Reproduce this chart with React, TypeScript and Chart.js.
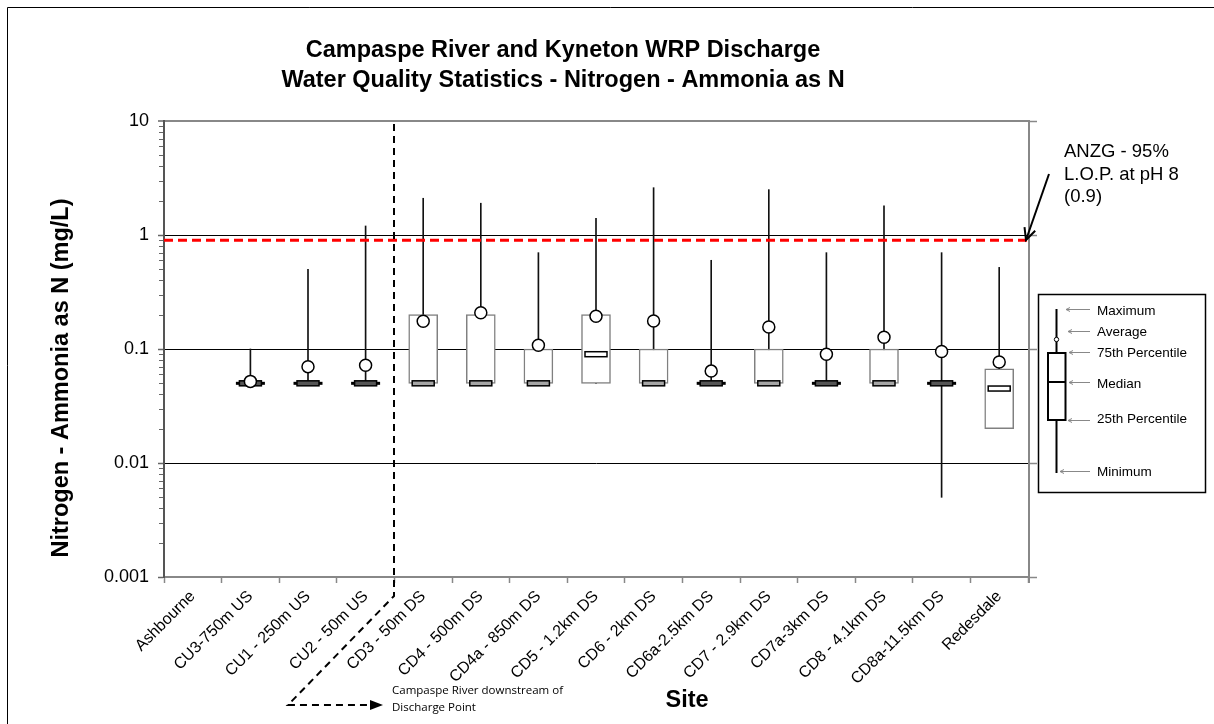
import React, { useEffect, useRef } from 'react';
import { Chart, registerables } from 'chart.js';

Chart.register(...registerables);

const sites = [
  'Ashbourne', 'CU3-750m US', 'CU1 - 250m US', 'CU2 - 50m US', 'CD3 - 50m DS',
  'CD4 - 500m DS', 'CD4a - 850m DS', 'CD5 - 1.2km DS', 'CD6 - 2km DS', 'CD6a-2.5km DS',
  'CD7 - 2.9km DS', 'CD7a-3km DS', 'CD8 - 4.1km DS', 'CD8a-11.5km DS', 'Redesdale',
];
const minValues = [null, 0.05, 0.05, 0.05, 0.05, 0.05, 0.05, 0.05, 0.05, 0.05, 0.05, 0.05, 0.05, 0.005, 0.02];
const q1Values = [null, 0.05, 0.05, 0.05, 0.05, 0.05, 0.05, 0.05, 0.05, 0.05, 0.05, 0.05, 0.05, 0.05, 0.02];
const medianValues = [null, 0.05, 0.05, 0.05, 0.05, 0.05, 0.05, 0.09, 0.05, 0.05, 0.05, 0.05, 0.05, 0.05, 0.045];
const q3Values = [null, 0.05, 0.05, 0.05, 0.2, 0.2, 0.1, 0.2, 0.1, 0.05, 0.1, 0.05, 0.1, 0.05, 0.067];
const maxValues = [null, 0.1, 0.5, 1.2, 2.1, 1.9, 0.7, 1.4, 2.6, 0.6, 2.5, 0.7, 1.8, 0.7, 0.52];
const meanValues = [null, 0.052, 0.07, 0.072, 0.175, 0.208, 0.108, 0.194, 0.176, 0.064, 0.156, 0.09, 0.127, 0.095, 0.077];

const yTickValues = [0.001, 0.01, 0.1, 1, 10];
const yTickLabels = ['0.001', '0.01', '0.1', '1', '10'];
const minorSteps = [2, 3, 4, 5, 6, 7, 8, 9];
const guidelineValue = 0.9;
const dischargeAfterIndex = 3;

const titleLines = ['Campaspe River and Kyneton WRP Discharge', 'Water Quality Statistics - Nitrogen - Ammonia as N'];
const yTitle = 'Nitrogen - Ammonia as N (mg/L)';
const xTitle = 'Site';
const guidelineText = ['ANZG - 95%', 'L.O.P. at pH 8', '(0.9)'];
const legendLabels = ['Maximum', 'Average', '75th Percentile', 'Median', '25th Percentile', 'Minimum'];
const noteLines = ['Campaspe River downstream of', 'Discharge Point'];

const FONT = '"Liberation Sans", Arial, Helvetica, sans-serif';
const NOTE_FONT = '"Open Sans", "Noto Sans", sans-serif';

function arrowHead(ctx: CanvasRenderingContext2D, tx: number, ty: number, fx: number, fy: number, len: number, spread: number) {
  const ang = Math.atan2(ty - fy, tx - fx);
  ctx.beginPath();
  ctx.moveTo(tx - len * Math.cos(ang - spread), ty - len * Math.sin(ang - spread));
  ctx.lineTo(tx, ty);
  ctx.lineTo(tx - len * Math.cos(ang + spread), ty - len * Math.sin(ang + spread));
  ctx.stroke();
}

const decorPlugin = {
  id: 'decor',
  beforeDraw(chart: any) {
    const { ctx, width, height } = chart;
    ctx.save();
    ctx.fillStyle = '#fff';
    ctx.fillRect(0, 0, width, height);
    ctx.strokeStyle = '#000';
    ctx.lineWidth = 1;
    ctx.beginPath();
    ctx.moveTo(7.5, height);
    ctx.lineTo(7.5, 7.5);
    ctx.lineTo(width, 7.5);
    ctx.stroke();
    ctx.restore();
  },
  afterDatasetDraw(chart: any, args: any) {
    if (args.index !== 1) return;
    const { ctx } = chart;
    const x = chart.scales.x;
    const y = chart.scales.y;
    ctx.save();
    sites.forEach((_, i) => {
      const med = medianValues[i];
      if (med == null) return;
      const cx = x.getPixelForValue(i);
      const q1 = q1Values[i] as number;
      const q3 = q3Values[i] as number;
      const degenerate = q1 === q3;
      if (degenerate) {
        const py = y.getPixelForValue(q1);
        ctx.fillStyle = '#000';
        ctx.fillRect(cx - 14.5, py - 1.5, 29, 3);
      }
      const my = y.getPixelForValue(med);
      ctx.fillStyle = degenerate ? '#555' : med === q1 ? '#a6a6a6' : '#fff';
      ctx.fillRect(cx - 11, my - 2.5, 22, 5);
      ctx.strokeStyle = '#000';
      ctx.lineWidth = 1.5;
      ctx.strokeRect(cx - 11, my - 2.5, 22, 5);
    });
    ctx.restore();
  },
  afterDatasetsDraw(chart: any) {
    const { ctx, chartArea: a } = chart;
    const x = chart.scales.x;
    const y = chart.scales.y;
    ctx.save();
    // guideline
    const gy = y.getPixelForValue(guidelineValue);
    ctx.strokeStyle = '#ff0000';
    ctx.lineWidth = 3;
    ctx.setLineDash([9, 5]);
    ctx.beginPath();
    ctx.moveTo(a.left, gy);
    ctx.lineTo(a.right, gy);
    ctx.stroke();
    ctx.setLineDash([]);

    // right axis
    ctx.strokeStyle = '#888';
    ctx.lineWidth = 2;
    ctx.beginPath();
    ctx.moveTo(a.right + 1, a.top - 1);
    ctx.lineTo(a.right + 1, a.bottom + 6);
    ctx.stroke();
    ctx.lineWidth = 1.5;
    yTickValues.forEach((v) => {
      const py = Math.round(y.getPixelForValue(v)) + 0.5;
      ctx.beginPath();
      ctx.moveTo(a.right, py);
      ctx.lineTo(a.right + 9, py);
      ctx.stroke();
    });

    // minor ticks on left axis
    ctx.strokeStyle = '#666';
    ctx.lineWidth = 1;
    yTickValues.slice(0, -1).forEach((d) => {
      minorSteps.forEach((k) => {
        const py = Math.round(y.getPixelForValue(d * k)) + 0.5;
        ctx.beginPath();
        ctx.moveTo(a.left - 5, py);
        ctx.lineTo(a.left - 1, py);
        ctx.stroke();
      });
    });

    // discharge separator + note arrow
    const bx = Math.round((x.getPixelForValue(dischargeAfterIndex) + x.getPixelForValue(dischargeAfterIndex + 1)) / 2);
    ctx.strokeStyle = '#000';
    ctx.lineWidth = 2;
    ctx.setLineDash([7, 5]);
    ctx.beginPath();
    ctx.moveTo(bx, a.top + 3);
    ctx.lineTo(bx, a.bottom + 19);
    ctx.lineTo(288, 705);
    ctx.lineTo(370, 705);
    ctx.stroke();
    ctx.setLineDash([]);
    ctx.fillStyle = '#000';
    ctx.beginPath();
    ctx.moveTo(383, 705);
    ctx.lineTo(370, 700);
    ctx.lineTo(370, 710);
    ctx.closePath();
    ctx.fill();
    ctx.restore();
  },
  afterDraw(chart: any) {
    const { ctx } = chart;
    ctx.save();
    ctx.fillStyle = '#000';
    // title
    ctx.font = `bold 23.5px ${FONT}`;
    ctx.textAlign = 'center';
    ctx.textBaseline = 'alphabetic';
    ctx.fillText(titleLines[0], 563, 57);
    ctx.fillText(titleLines[1], 563, 87);
    // axis titles
    ctx.font = `bold 23.5px ${FONT}`;
    ctx.fillText(xTitle, 687, 707);
    ctx.save();
    ctx.translate(68, 378);
    ctx.rotate(-Math.PI / 2);
    ctx.fillText(yTitle, 0, 0);
    ctx.restore();

    // guideline annotation
    ctx.textAlign = 'left';
    ctx.font = `18.5px ${FONT}`;
    ctx.fillText(guidelineText[0], 1064, 157);
    ctx.fillText(guidelineText[1], 1064, 179.5);
    ctx.fillText(guidelineText[2], 1064, 202);
    ctx.strokeStyle = '#000';
    ctx.lineWidth = 2;
    ctx.beginPath();
    ctx.moveTo(1049, 174);
    ctx.lineTo(1026, 240);
    ctx.stroke();
    arrowHead(ctx, 1026, 240, 1049, 174, 13, 0.45);

    // note text
    ctx.font = `11.5px ${NOTE_FONT}`;
    ctx.fillText(noteLines[0], 392, 694);
    ctx.fillText(noteLines[1], 392, 711);

    // legend
    ctx.strokeStyle = '#000';
    ctx.lineWidth = 1.5;
    ctx.strokeRect(1038.5, 294.5, 167, 198);
    const lx = 1056.5;
    ctx.lineWidth = 2;
    ctx.beginPath();
    ctx.moveTo(lx, 309);
    ctx.lineTo(lx, 473);
    ctx.stroke();
    ctx.fillStyle = '#fff';
    ctx.fillRect(1048, 353, 17.5, 67);
    ctx.strokeRect(1048, 353, 17.5, 67);
    ctx.beginPath();
    ctx.moveTo(1048, 382);
    ctx.lineTo(1065.5, 382);
    ctx.stroke();
    ctx.lineWidth = 1;
    ctx.beginPath();
    ctx.arc(lx, 339.5, 2.2, 0, Math.PI * 2);
    ctx.fill();
    ctx.stroke();

    const labelY = [311, 332, 353, 384, 419, 472];
    const arrowY = [309.5, 331.5, 352.5, 382.5, 420.5, 471.5];
    const tipX = [1066, 1068, 1069, 1069, 1068, 1060];
    ctx.fillStyle = '#000';
    ctx.font = `13.5px ${FONT}`;
    ctx.textBaseline = 'middle';
    legendLabels.forEach((lab, i) => {
      ctx.fillText(lab, 1097, labelY[i]);
      ctx.strokeStyle = '#888';
      ctx.lineWidth = 1;
      ctx.beginPath();
      ctx.moveTo(1090, arrowY[i]);
      ctx.lineTo(tipX[i], arrowY[i]);
      ctx.stroke();
      ctx.beginPath();
      ctx.moveTo(tipX[i] + 4, arrowY[i] - 2);
      ctx.lineTo(tipX[i], arrowY[i]);
      ctx.lineTo(tipX[i] + 4, arrowY[i] + 2);
      ctx.stroke();
    });
    ctx.restore();
  },
};

export default function App() {
  const canvasRef = useRef<HTMLCanvasElement | null>(null);

  useEffect(() => {
    const canvas = canvasRef.current;
    if (!canvas) return;
    const chart = new Chart(canvas, {
      type: 'bar',
      data: {
        labels: sites,
        datasets: [
          {
            type: 'line',
            label: 'Average',
            data: meanValues as any,
            showLine: false,
            pointRadius: 6,
            pointHoverRadius: 6,
            pointBackgroundColor: '#fff',
            pointBorderColor: '#000',
            pointBorderWidth: 1.5,
          } as any,
          {
            type: 'bar',
            label: 'Box',
            data: sites.map((_, i) => (q1Values[i] == null ? null : [q1Values[i], q3Values[i]])) as any,
            backgroundColor: '#fff',
            borderColor: '#808080',
            borderWidth: 1.5,
            borderSkipped: false,
            barThickness: 29,
            grouped: false,
          } as any,
          {
            type: 'bar',
            label: 'Range',
            data: sites.map((_, i) => (minValues[i] == null ? null : [minValues[i], maxValues[i]])) as any,
            backgroundColor: '#111',
            borderWidth: 0,
            barThickness: 1,
            grouped: false,
          } as any,
        ],
      },
      options: {
        responsive: false,
        animation: false,
        events: [],
        layout: { padding: { top: 121, right: 186, bottom: 0, left: 0 } },
        plugins: {
          legend: { display: false },
          tooltip: { enabled: false },
          title: { display: false },
        },
        scales: {
          x: {
            type: 'category',
            offset: true,
            afterFit: (s: any) => {
              s.height = 147;
            },
            grid: {
              offset: true,
              drawOnChartArea: false,
              drawTicks: true,
              tickLength: 6,
              tickColor: '#888',
              tickWidth: 1.5,
            },
            border: { color: '#888', width: 2 },
            ticks: {
              autoSkip: false,
              maxRotation: 45,
              minRotation: 45,
              padding: 4,
              color: '#000',
              font: { family: FONT, size: 16 },
            },
          },
          y: {
            type: 'logarithmic',
            min: 0.001,
            max: 10,
            afterFit: (s: any) => {
              s.width = 164;
            },
            afterBuildTicks: (s: any) => {
              s.ticks = yTickValues.map((v) => ({ value: v }));
            },
            grid: {
              color: (c: any) =>
                c.tick && c.tick.value === 10 ? '#888' : c.tick && c.tick.value === 0.001 ? 'rgba(0,0,0,0)' : '#000',
              lineWidth: (c: any) => (c.tick && c.tick.value === 10 ? 2 : 1),
              drawTicks: true,
              tickLength: 6,
              tickColor: '#666',
              tickWidth: 1.5,
            },
            border: { color: '#555', width: 2 },
            ticks: {
              autoSkip: false,
              padding: 9,
              color: '#000',
              font: { family: FONT, size: 18 },
              callback: (_v: any, idx: number) => yTickLabels[idx],
            },
          },
        },
      },
      plugins: [decorPlugin],
    });
    return () => chart.destroy();
  }, []);

  return (
    <div style={{ position: 'fixed', left: 0, top: 0, width: 1214, height: 724, background: '#fff' }}>
      <canvas ref={canvasRef} width={1214} height={724} style={{ display: 'block' }} />
    </div>
  );
}
